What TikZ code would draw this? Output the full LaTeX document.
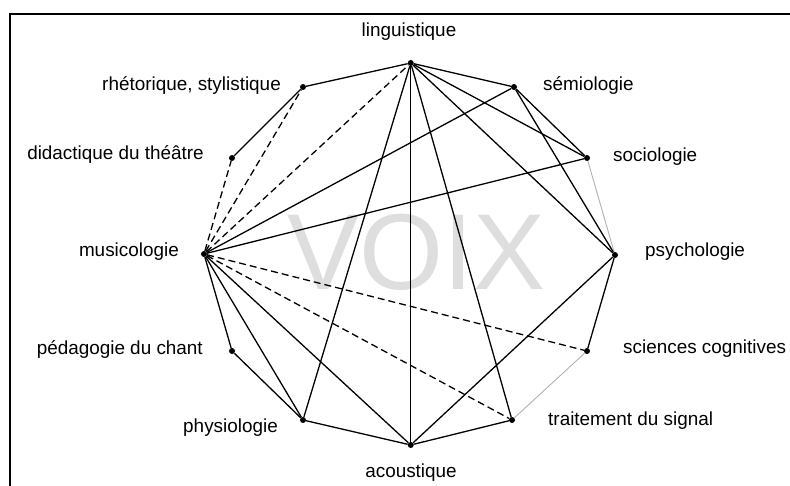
\documentclass[tikz,border=0pt]{standalone}
\usepackage{fontspec}
\setmainfont{Liberation Sans}
\begin{document}
\begin{tikzpicture}[x=1bp,y=-1bp,
  dot/.style={circle,fill=black,inner sep=0pt,minimum size=6bp},
  lbl/.style={font=\fontsize{18.9bp}{22bp}\selectfont,inner sep=0pt},
  solidln/.style={line width=1.3bp,black},
  dashln/.style={line width=1.3bp,black,dash pattern=on 7bp off 4bp},
  grayln/.style={line width=0.9bp,black!30},
  frameln/.style={line width=2bp,black}]
\useasboundingbox (0,0) rectangle (790,486);
\fill[white] (0,0) rectangle (790,486);
\draw[frameln] (9.5,486) -- (9.5,13.7) -- (790,13.7);
\node[anchor=base,text=black!13,font=\fontsize{108bp}{110bp}\selectfont,inner sep=0pt] (voix) at (416.5,290) {VOIX};
% vertices
\node[dot] (L) at (410.75,63) {};
\node[dot] (Se) at (514,87) {};
\node[dot] (So) at (587,158) {};
\node[dot] (P) at (615,255) {};
\node[dot] (SC) at (587,351) {};
\node[dot] (T) at (512,420) {};
\node[dot] (A) at (410.75,445) {};
\node[dot] (Ph) at (303,420) {};
\node[dot] (Pe) at (232,351) {};
\node[dot] (M) at (204,254) {};
\node[dot] (D) at (232,158) {};
\node[dot] (R) at (303,87) {};
% gray edges
\draw[grayln] (So) -- (P);
\draw[grayln] (SC) -- (T);
% solid edges
\foreach \a/\b in {L/Se,Se/So,P/SC,T/A,A/Ph,Ph/Pe,Pe/M,D/R,R/L,L/A,L/Ph,L/T,L/P,L/So,Se/P,Se/M,So/M,M/Ph,M/A,A/P}
  \draw[solidln] (\a) -- (\b);
% dashed edges
\foreach \a/\b in {M/D,M/R,M/L,M/SC,M/T}
  \draw[dashln] (\a) -- (\b);
% labels
\node[lbl,anchor=mid] (tL) at (409,34) {linguistique};
\node[lbl,anchor=mid west] (tSe) at (543,88) {sémiologie};
\node[lbl,anchor=mid west] (tSo) at (613,159) {sociologie};
\node[lbl,anchor=mid west] (tP) at (645,254) {psychologie};
\node[lbl,anchor=mid west] (tSC) at (623,351) {sciences cognitives};
\node[lbl,anchor=mid west] (tT) at (548,423) {traitement du signal};
\node[lbl,anchor=mid] (tA) at (411,475) {acoustique};
\node[lbl,anchor=mid east] (tPh) at (278,430) {physiologie};
\node[lbl,anchor=mid east] (tPe) at (203,352) {pédagogie du chant};
\node[lbl,anchor=mid east] (tM) at (179,254) {musicologie};
\node[lbl,anchor=mid east] (tD) at (204,157) {didactique du théâtre};
\node[lbl,anchor=mid east] (tR) at (281,88) {rhétorique, stylistique};
\end{tikzpicture}
\end{document}
